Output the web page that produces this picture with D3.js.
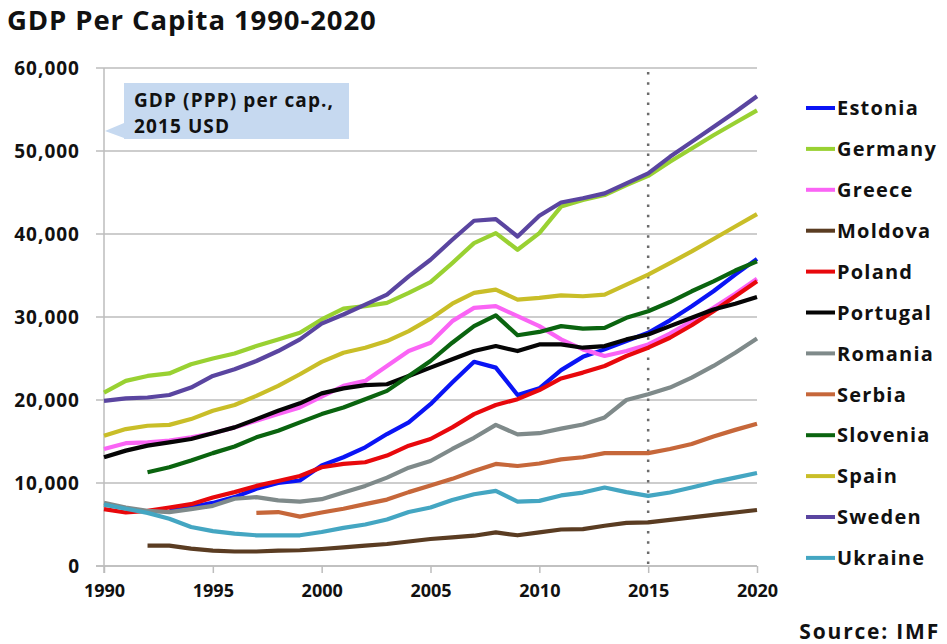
<!DOCTYPE html>
<html>
<head>
<meta charset="utf-8">
<script src="https://cdn.jsdelivr.net/npm/d3@7"></script>
<style>
  body { margin: 0; background: #fff; }
  text { font-family: "Open Sans", Lato, sans-serif; font-weight: bold; fill: #111; }
</style>
</head>
<body>
<div id="chart"></div>
<script>
// ***** data (GDP PPP per capita, thousand 2015 USD) *****
var years = d3.range(1990, 2021);
var yTicks = [0, 10000, 20000, 30000, 40000, 50000, 60000];
var xTicks = [1990, 1995, 2000, 2005, 2010, 2015, 2020];

var estonia  = [null, null, null, 6.9, 7.1, 7.6, 8.3, 9.3, 10.0, 10.3, 12.1, 13.1, 14.3, 15.9, 17.3, 19.5, 22.1, 24.6, 23.9, 20.6, 21.4, 23.6, 25.2, 26.1, 27.1, 28.1, 29.6, 31.3, 33.1, 35.1, 37.0];
var germany  = [20.9, 22.3, 22.9, 23.2, 24.3, 25.0, 25.6, 26.5, 27.3, 28.1, 29.7, 31.0, 31.3, 31.7, 32.9, 34.2, 36.5, 38.9, 40.1, 38.1, 40.1, 43.3, 44.1, 44.7, 45.9, 47.0, 48.7, 50.3, 51.9, 53.4, 54.9];
var greece   = [14.1, 14.8, 14.9, 15.1, 15.5, 16.0, 16.7, 17.5, 18.3, 19.1, 20.4, 21.7, 22.3, 24.1, 25.9, 26.9, 29.5, 31.1, 31.3, 30.1, 28.9, 27.3, 26.1, 25.3, 25.9, 26.7, 28.0, 29.5, 31.1, 32.8, 34.6];
var moldova  = [null, null, 2.45, 2.45, 2.1, 1.85, 1.75, 1.75, 1.85, 1.9, 2.05, 2.25, 2.45, 2.65, 2.95, 3.25, 3.45, 3.65, 4.05, 3.7, 4.05, 4.4, 4.45, 4.85, 5.2, 5.25, 5.55, 5.85, 6.15, 6.45, 6.75];
var poland   = [6.85, 6.45, 6.65, 7.05, 7.45, 8.25, 8.9, 9.65, 10.25, 10.85, 11.9, 12.3, 12.5, 13.3, 14.5, 15.3, 16.7, 18.3, 19.4, 20.1, 21.2, 22.6, 23.3, 24.1, 25.3, 26.3, 27.5, 29.0, 30.7, 32.5, 34.3];
var portugal = [13.1, 13.9, 14.5, 14.9, 15.3, 16.0, 16.7, 17.7, 18.7, 19.6, 20.8, 21.4, 21.8, 21.9, 22.9, 23.9, 24.9, 25.9, 26.5, 25.9, 26.7, 26.7, 26.3, 26.5, 27.3, 27.9, 28.9, 29.9, 30.9, 31.6, 32.4];
var romania  = [7.6, 7.05, 6.65, 6.5, 6.85, 7.25, 8.1, 8.3, 7.9, 7.75, 8.05, 8.85, 9.65, 10.65, 11.85, 12.65, 14.1, 15.45, 17.0, 15.85, 16.0, 16.55, 17.05, 17.9, 20.0, 20.7, 21.5, 22.7, 24.1, 25.7, 27.4];
var serbia   = [null, null, null, null, null, null, null, 6.4, 6.5, 5.95, 6.45, 6.9, 7.45, 8.0, 8.9, 9.7, 10.5, 11.45, 12.3, 12.05, 12.35, 12.85, 13.1, 13.6, 13.6, 13.6, 14.1, 14.7, 15.6, 16.4, 17.15];
var slovenia = [null, null, 11.3, 11.9, 12.7, 13.6, 14.4, 15.5, 16.3, 17.3, 18.3, 19.1, 20.1, 21.1, 22.9, 24.7, 26.9, 28.9, 30.2, 27.8, 28.2, 28.9, 28.6, 28.7, 29.9, 30.7, 31.8, 33.1, 34.3, 35.6, 36.7];
var spain    = [15.7, 16.5, 16.9, 17.0, 17.7, 18.7, 19.4, 20.5, 21.7, 23.1, 24.6, 25.7, 26.3, 27.1, 28.3, 29.8, 31.6, 32.9, 33.3, 32.1, 32.3, 32.6, 32.5, 32.7, 33.9, 35.1, 36.5, 37.9, 39.4, 40.9, 42.4];
var sweden   = [19.9, 20.2, 20.3, 20.6, 21.5, 22.9, 23.7, 24.7, 25.9, 27.3, 29.2, 30.3, 31.5, 32.7, 34.9, 36.9, 39.3, 41.6, 41.8, 39.7, 42.2, 43.8, 44.3, 44.9, 46.1, 47.3, 49.3, 51.1, 52.9, 54.7, 56.6];
var ukraine  = [7.4, 6.9, 6.4, 5.7, 4.7, 4.2, 3.9, 3.7, 3.7, 3.7, 4.1, 4.6, 5.0, 5.6, 6.5, 7.05, 7.95, 8.65, 9.05, 7.75, 7.85, 8.5, 8.85, 9.45, 8.9, 8.45, 8.85, 9.45, 10.1, 10.65, 11.2];

var countries = ["Estonia", "Germany", "Greece", "Moldova", "Poland", "Portugal", "Romania", "Serbia", "Slovenia", "Spain", "Sweden", "Ukraine"];
var seriesValues = [estonia, germany, greece, moldova, poland, portugal, romania, serbia, slovenia, spain, sweden, ukraine];
var colors = ["#0a14f5", "#99d132", "#fa64f5", "#5a3c22", "#e8080c", "#050505", "#7f8a8a", "#c6673a", "#0a640f", "#c9be28", "#5a45a0", "#44a6c2"];

// set the dimensions and margins of the graph
var W = 947, H = 644;
var margin = {top: 68, right: 190, bottom: 78, left: 104},
    width = W - margin.left - margin.right,
    height = H - margin.top - margin.bottom;

var svg = d3.select("#chart")
  .append("svg")
    .attr("width", W)
    .attr("height", H);

// title
svg.append("text")
  .attr("x", 7)
  .attr("y", 30)
  .style("font-size", "27.5px")
  .style("letter-spacing", "0.9px")
  .text("GDP Per Capita 1990-2020");

var g = svg.append("g")
  .attr("transform", "translate(" + margin.left + "," + margin.top + ")");

var x = d3.scaleLinear().domain([1990, 2020]).range([0, width]);
var y = d3.scaleLinear().domain([0, 60000]).range([height, 0]);

// grid lines
g.selectAll(".grid")
  .data(yTicks)
  .enter()
  .append("line")
    .attr("x1", -8)
    .attr("x2", width)
    .attr("y1", function(d) { return y(d); })
    .attr("y2", function(d) { return y(d); })
    .attr("stroke", "#bdbdbd")
    .attr("stroke-width", 1.5);

// Y axis
var yAxis = g.append("g")
  .call(d3.axisLeft(y).tickValues(yTicks).tickSize(0).tickPadding(24).tickFormat(d3.format(",")));
yAxis.select(".domain").remove();
yAxis.selectAll("text")
  .style("font-size", "19px")
  .style("letter-spacing", "1px")
  .attr("dy", "0.35em");

// X axis
var xAxis = g.append("g")
  .attr("transform", "translate(0," + height + ")")
  .call(d3.axisBottom(x).tickValues(xTicks).tickSize(7).tickPadding(11).tickFormat(d3.format("d")));
xAxis.select(".domain").attr("stroke", "#bdbdbd").attr("stroke-width", 1.5).attr("d", "M-8,0H" + width);
xAxis.selectAll(".tick line").attr("stroke", "#bdbdbd").attr("stroke-width", 1.5);
xAxis.selectAll("text").style("font-size", "18px");

// left vertical axis line
g.append("line")
  .attr("x1", 0).attr("x2", 0)
  .attr("y1", 0).attr("y2", height + 7)
  .attr("stroke", "#bdbdbd")
  .attr("stroke-width", 1.5);

// dotted 2015 marker
g.append("line")
  .attr("x1", x(2015)).attr("x2", x(2015))
  .attr("y1", 4).attr("y2", height - 2)
  .attr("stroke", "#6b6b6b")
  .attr("stroke-width", 2.5)
  .attr("stroke-dasharray", "2.5,7.7");

// Lines
var line = d3.line()
  .defined(function(d) { return d != null; })
  .x(function(d, i) { return x(years[i]); })
  .y(function(d) { return y(d * 1000); });

g.selectAll(".country")
  .data(seriesValues)
  .enter()
  .append("path")
    .attr("d", function(d) { return line(d); })
    .attr("fill", "none")
    .attr("stroke", function(d, i) { return colors[i]; })
    .attr("stroke-width", 4.2)
    .attr("stroke-linejoin", "round");

// callout
svg.append("path")
  .attr("d", "M124,83 H349 V139 H124 V138 L105,131 L124,123 Z")
  .attr("fill", "#c6d9f0");
svg.append("text")
  .attr("x", 134).attr("y", 107)
  .style("font-size", "19px")
  .style("letter-spacing", "1.1px")
  .text("GDP (PPP) per cap.,");
svg.append("text")
  .attr("x", 134).attr("y", 133)
  .style("font-size", "19px")
  .style("letter-spacing", "1.1px")
  .text("2015 USD");

// legend
var legend = svg.selectAll(".legend")
  .data(countries)
  .enter()
  .append("g")
    .attr("transform", function(d, i) { return "translate(806," + (108 + i * 40.9) + ")"; });
legend.append("line")
  .attr("x1", 0).attr("x2", 29)
  .attr("stroke", function(d, i) { return colors[i]; })
  .attr("stroke-width", 4);
legend.append("text")
  .attr("x", 31)
  .attr("dy", "0.36em")
  .style("font-size", "20px")
  .style("letter-spacing", "1.2px")
  .text(function(d) { return d; });

// source
svg.append("text")
  .attr("x", 940).attr("y", 639)
  .attr("text-anchor", "end")
  .style("font-size", "21px")
  .style("letter-spacing", "1.8px")
  .text("Source: IMF");
</script>
</body>
</html>
